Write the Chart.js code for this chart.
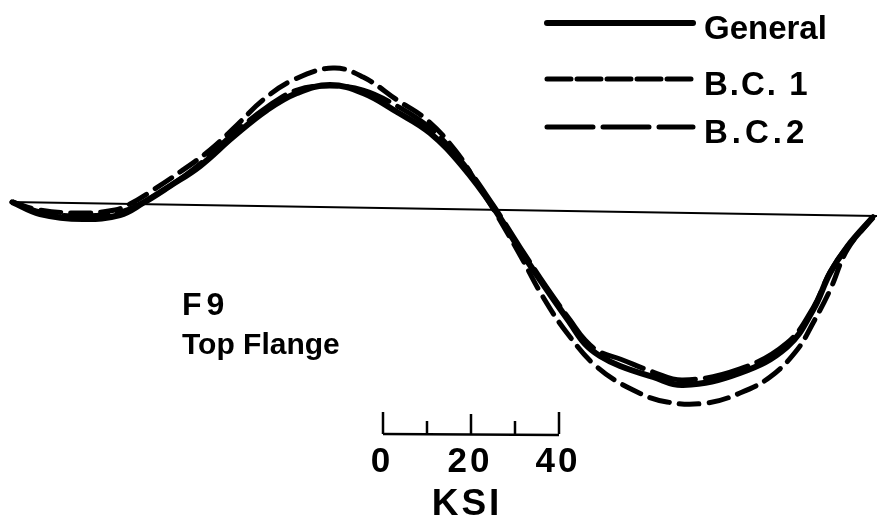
<!DOCTYPE html>
<html lang="en">
<head>
    <meta charset="UTF-8">
    <title>F9 Top Flange - Stress Distribution</title>
    <script src="https://cdn.jsdelivr.net/npm/chart.js"></script>
    <style>
        body {
            margin: 0;
            background: white;
        }
        #chart-container {
            width: 877px;
            height: 522px;
            position: relative;
        }
    </style>
</head>
<body>
    <div id="chart-container">
        <canvas id="flangeChart"></canvas>
    </div>

    <script>
        // Station along the flange (% of width) and stress (ksi)
        const baselineX = [-0.23, 100.46];
        const baselineKsi = [0, -3.18];

        const generalX = [0, 3.25, 8.25, 12.54, 15.21, 18.35, 21.84, 25.67, 29.62, 33.10, 36.93, 40.77, 44.72, 48.55, 52.38, 55.87, 59.00, 62.14, 64.81, 66.55, 68.29, 70.62, 74.45, 77.93, 84.55, 90.01, 93.03, 95.01, 96.98, 100];
        const generalKsi = [0, -2.73, -3.86, -2.95, -0.23, 3.64, 8.18, 14.77, 20.91, 24.77, 26.59, 24.77, 20.45, 15.68, 7.95, -1.14, -10.91, -20.0, -27.5, -32.27, -35.0, -37.27, -39.77, -41.59, -38.86, -32.95, -24.55, -16.14, -10.23, -3.4];

        const bc1X = [0, 3.25, 8.25, 11.96, 13.70, 16.03, 19.51, 23.0, 26.13, 29.15, 32.64, 37.28, 40.77, 44.72, 48.2, 51.45, 53.77, 56.10, 59.0, 61.67, 64.46, 67.94, 72.13, 76.07, 80.72, 84.55, 88.04, 91.17, 93.03, 95.01, 96.98, 100];
        const bc1Ksi = [0, -1.82, -2.5, -1.82, -0.45, 2.27, 6.82, 11.82, 17.5, 23.18, 27.73, 30.45, 28.41, 23.18, 18.64, 11.82, 5.0, -2.27, -12.05, -21.59, -29.77, -37.5, -42.73, -45.45, -45.68, -43.41, -39.77, -33.64, -27.5, -20.0, -10.91, -3.4];

        const bc2X = [0, 3.25, 8.25, 12.54, 14.87, 18.35, 21.84, 25.67, 29.62, 33.10, 36.93, 40.77, 44.72, 48.55, 52.38, 55.87, 59.0, 62.14, 64.81, 66.55, 68.29, 70.62, 74.45, 77.93, 84.55, 90.01, 93.03, 95.01, 96.98, 100];
        const bc2Ksi = [0, -2.27, -3.18, -2.27, -0.45, 3.64, 8.64, 15.45, 21.59, 25.45, 26.36, 25.45, 21.82, 16.82, 8.86, -0.68, -10.23, -19.55, -26.82, -31.36, -34.09, -35.68, -38.64, -40.45, -37.95, -32.05, -24.09, -15.91, -10.23, -3.4];

        const seriesLabels = ['General', 'B.C. 1', 'B.C.2'];
        const scaleTicks = [0, 10, 20, 30, 40];
        const scaleLabels = [0, 20, 40];
        const unitLabel = 'KSI';
        const memberLabel = ['F9', 'Top Flange'];

        const toPoints = (xs, ys) => xs.map((x, i) => ({ x: x, y: ys[i] }));

        // legend, section label and ksi scale bar drawn on top of the chart
        const annotationPlugin = {
            id: 'annotations',
            afterDraw(chart) {
                const ctx = chart.ctx;
                const yScale = chart.scales.y;
                const pxPerKsi = yScale.getPixelForValue(0) - yScale.getPixelForValue(1);

                ctx.save();
                ctx.fillStyle = '#000';
                ctx.strokeStyle = '#000';
                ctx.textBaseline = 'alphabetic';

                // legend
                const legendRows = [23, 79, 127];
                const legendSpacing = ['0px', '2px', '4px'];
                chart.data.datasets.filter(ds => seriesLabels.includes(ds.label)).forEach((ds, i) => {
                    const y = legendRows[i];
                    ctx.lineWidth = ds.borderWidth;
                    ctx.lineCap = 'round';
                    ctx.setLineDash(ds.legendDash || []);
                    ctx.beginPath();
                    ctx.moveTo(547, y);
                    ctx.lineTo(693, y);
                    ctx.stroke();
                    ctx.setLineDash([]);
                    ctx.font = 'bold 33px "Liberation Sans", Arial, sans-serif';
                    ctx.letterSpacing = legendSpacing[i];
                    ctx.fillText(ds.label, 704, y + 16);
                });

                // member label
                ctx.font = 'bold 32px "Liberation Sans", Arial, sans-serif';
                ctx.letterSpacing = '5px';
                ctx.fillText(memberLabel[0], 182, 315);
                ctx.font = 'bold 30px "Liberation Sans", Arial, sans-serif';
                ctx.letterSpacing = '0px';
                ctx.fillText(memberLabel[1], 182, 354);

                // scale bar
                const x0 = 383, yBar = 434;
                ctx.lineWidth = 2.5;
                ctx.lineCap = 'butt';
                ctx.beginPath();
                ctx.moveTo(x0, yBar);
                ctx.lineTo(x0 + scaleTicks[scaleTicks.length - 1] * pxPerKsi, yBar + 1);
                ctx.stroke();
                scaleTicks.forEach(t => {
                    const x = x0 + t * pxPerKsi;
                    let h = 13;
                    if (t === 0 || t === 40) h = 22;
                    else if (t === 20) h = 20;
                    ctx.beginPath();
                    ctx.moveTo(x, yBar);
                    ctx.lineTo(x, yBar - h);
                    ctx.stroke();
                });
                ctx.font = 'bold 35px "Liberation Sans", Arial, sans-serif';
                ctx.textAlign = 'center';
                ctx.letterSpacing = '3px';
                scaleLabels.forEach(v => {
                    ctx.fillText(String(v), x0 - 1 + v * pxPerKsi, 472);
                });
                ctx.font = 'bold 37px "Liberation Sans", Arial, sans-serif';
                ctx.fillText(unitLabel, x0 - 4 + 20 * pxPerKsi, 515);
                ctx.restore();
            }
        };

        const ctxFlange = document.getElementById('flangeChart').getContext('2d');
        const chartFlange = new Chart(ctxFlange, {
            type: 'line',
            data: {
                datasets: [
                    {
                        label: 'baseline',
                        data: toPoints(baselineX, baselineKsi),
                        borderColor: '#000',
                        borderWidth: 2,
                        pointRadius: 0,
                        order: 4,
                    },
                    {
                        label: seriesLabels[0],
                        data: toPoints(generalX, generalKsi),
                        borderColor: '#000',
                        borderWidth: 6,
                        pointRadius: 0,
                        tension: 0.4,
                        order: 3,
                    },
                    {
                        label: seriesLabels[1],
                        data: toPoints(bc1X, bc1Ksi),
                        borderColor: '#000',
                        borderWidth: 5,
                        borderDash: [20, 10],
                        legendDash: [24, 6],
                        borderCapStyle: 'round',
                        pointRadius: 0,
                        tension: 0.4,
                        order: 1,
                    },
                    {
                        label: seriesLabels[2],
                        data: toPoints(bc2X, bc2Ksi),
                        borderColor: '#000',
                        borderWidth: 5,
                        borderDash: [44, 10],
                        legendDash: [46, 10],
                        borderCapStyle: 'round',
                        pointRadius: 0,
                        tension: 0.4,
                        order: 2,
                    },
                ],
            },
            options: {
                responsive: true,
                maintainAspectRatio: false,
                animation: false,
                clip: false,
                layout: { padding: 0 },
                plugins: {
                    legend: { display: false },
                    tooltip: { enabled: false },
                },
                scales: {
                    x: {
                        type: 'linear',
                        min: -1.394,
                        max: 100.46,
                        display: false,
                    },
                    y: {
                        min: -72.73,
                        max: 45.91,
                        display: false,
                    },
                },
            },
            plugins: [annotationPlugin],
        });
    </script>
</body>
</html>
